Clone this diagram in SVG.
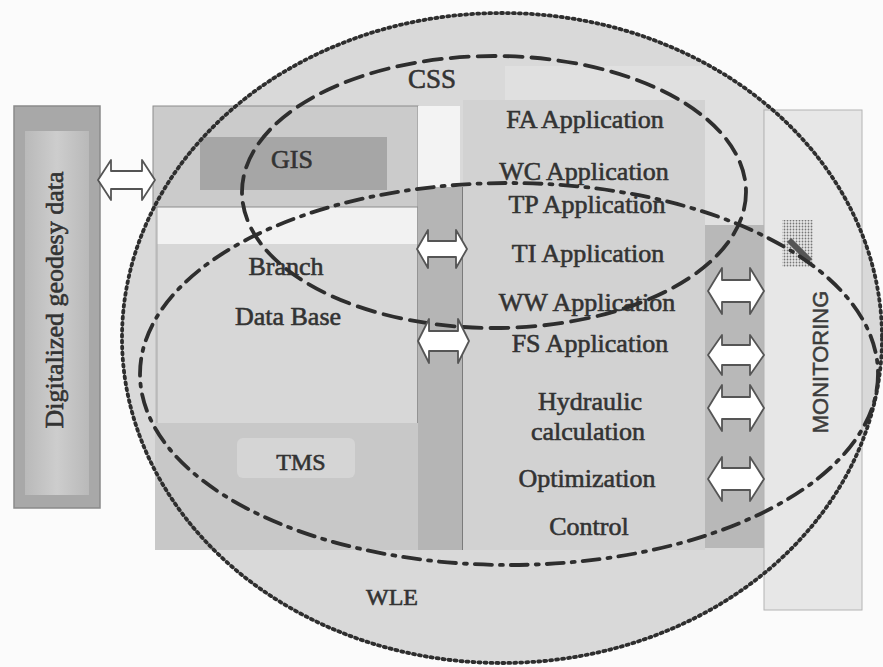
<svg xmlns="http://www.w3.org/2000/svg" width="883" height="667" viewBox="0 0 883 667">
  <style>
    .lbl { font-family: "Liberation Serif", "Times New Roman", serif; font-size: 26px; fill: #333; stroke: #333; stroke-width: 0.6; text-anchor: middle; }
    .sans { font-family: "Liberation Sans", Arial, sans-serif; font-size: 22px; fill: #3c3c3c; stroke: #3c3c3c; stroke-width: 0.5; text-anchor: middle; }
    .dbl { fill: #ffffff; stroke: #555; stroke-width: 1.8; stroke-linejoin: round; }
    .bound { fill: none; stroke: #2e2e2e; stroke-width: 3.8; stroke-linecap: round; }
  </style>
  <defs>
    <pattern id="stipple" width="3" height="3" patternUnits="userSpaceOnUse">
      <circle cx="1.5" cy="1.5" r="0.9" fill="#777"/>
    </pattern>
    <linearGradient id="sideShade" x1="0" y1="0" x2="1" y2="0">
      <stop offset="0" stop-color="#b9b9b9"/>
      <stop offset="0.5" stop-color="#cdcdcd"/>
      <stop offset="1" stop-color="#b9b9b9"/>
    </linearGradient>
    <clipPath id="wleClip">
      <ellipse cx="502" cy="338" rx="380" ry="325"/>
    </clipPath>
  </defs>

  <rect x="0" y="0" width="883" height="667" fill="#fbfbfb"/>

  <!-- WLE area: interior of the outer boundary -->
  <ellipse id="wle-fill" cx="502" cy="338" rx="380" ry="325" fill="#d9d9d9"/>

  <!-- Digitalized geodesy data -->
  <g id="geodesy">
    <rect x="14" y="106" width="86" height="402" fill="#a8a8a8" stroke="#8a8a8a" stroke-width="1.5"/>
    <rect x="25" y="131" width="64" height="364" fill="url(#sideShade)"/>
    <text class="lbl" x="63" y="300" transform="rotate(-90 63 300)">Digitalized geodesy data</text>
  </g>

  <!-- TMS block with branch data base and GIS -->
  <g id="tms">
    <rect x="155" y="207" width="310" height="343" fill="#c8c8c8"/>
    <rect x="237" y="438" width="118" height="40" rx="6" fill="#d5d5d5"/>
    <text class="lbl" x="301" y="470" style="font-size:24px">TMS</text>
  </g>
  <g id="branch-db">
    <rect x="157" y="207" width="261" height="37" fill="#f2f2f2"/>
    <rect x="157" y="244" width="261" height="179" fill="#d7d7d7"/>
    <line x1="418" y1="207" x2="418" y2="423" stroke="#666" stroke-width="1.2"/>
    <line x1="157" y1="207" x2="157" y2="423" stroke="#aaa" stroke-width="1"/>
    <text class="lbl" x="286" y="275">Branch</text>
    <text class="lbl" x="288" y="325">Data Base</text>
  </g>
  <g id="gis">
    <rect x="153" y="106" width="265" height="101" fill="#cbcbcb" stroke="#8c8c8c" stroke-width="1"/>
    <rect x="200" y="137" width="187" height="53" fill="#a6a6a6"/>
    <text class="lbl" x="292" y="168">GIS</text>
  </g>

  <!-- interface column between branch data and applications -->
  <g id="tms-css-link">
    <rect x="418" y="106" width="42" height="81" fill="#f3f3f3"/>
    <rect x="418" y="187" width="47" height="363" fill="#b5b5b5"/>
    <line x1="463" y1="187" x2="463" y2="550" stroke="#555" stroke-width="1.2"/>
  </g>

  <!-- CSS applications -->
  <g id="css">
    <rect x="505" y="66" width="258" height="160" fill="#e0e0e0" clip-path="url(#wleClip)"/>
    <rect x="463" y="100" width="242" height="450" fill="#d2d2d2"/>
    <rect x="705" y="225" width="60" height="323" fill="#b8b8b8"/>
    <text class="lbl" x="432" y="88" style="font-size:27px">CSS</text>
    <text class="lbl" x="585" y="128">FA Application</text>
    <text class="lbl" x="584" y="180">WC Application</text>
    <text class="lbl" x="587" y="213">TP Application</text>
    <text class="lbl" x="588" y="262">TI Application</text>
    <text class="lbl" x="587" y="311">WW Application</text>
    <text class="lbl" x="590" y="352">FS Application</text>
    <text class="lbl" x="590" y="410">Hydraulic</text>
    <text class="lbl" x="588" y="440">calculation</text>
    <text class="lbl" x="587" y="487">Optimization</text>
    <text class="lbl" x="589" y="535">Control</text>
  </g>

  <!-- Monitoring -->
  <g id="monitoring">
    <rect x="764" y="110" width="98" height="500" fill="#e7e7e7" stroke="#b4b4b4" stroke-width="1"/>
    <rect x="782" y="220" width="31" height="47" fill="url(#stipple)"/>
    <line x1="789" y1="240" x2="810" y2="261" stroke="#555" stroke-width="6"/>
    <text class="sans" x="828" y="362" transform="rotate(-90 828 362)">MONITORING</text>
  </g>

  <!-- boundaries of WLE, CSS and the monitored zone -->
  <g id="boundaries">
    <ellipse class="bound" cx="502" cy="338" rx="380" ry="325" stroke-dasharray="2 4" stroke-width="4"/>
    <ellipse class="bound" cx="494" cy="192" rx="252" ry="136" stroke-dasharray="18 9"/>
    <ellipse class="bound" cx="509" cy="374" rx="369" ry="191" stroke-dasharray="17 8 3 8"/>
    <text class="lbl" x="392" y="605" style="font-size:24px">WLE</text>
  </g>

  <!-- data exchange arrows -->
  <g id="connectors">
    <path class="dbl" d="M98,180 L111,160 L111,171 L142,171 L142,160 L155,180 L142,200 L142,189 L111,189 L111,200 Z"/>
    <path class="dbl" d="M417,249 L428,230 L428,241 L456,241 L456,230 L467,249 L456,268 L456,257 L428,257 L428,268 Z"/>
    <path class="dbl" d="M418,341 L429,319 L429,331 L458,331 L458,319 L469,341 L458,363 L458,351 L429,351 L429,363 Z"/>
    <path class="dbl" d="M708,291 L722,268 L722,280 L750,280 L750,268 L764,291 L750,314 L750,302 L722,302 L722,314 Z"/>
    <path class="dbl" d="M708,355 L722,335 L722,345 L750,345 L750,335 L764,355 L750,375 L750,365 L722,365 L722,375 Z"/>
    <path class="dbl" d="M708,408 L722,385 L722,397 L750,397 L750,385 L764,408 L750,431 L750,419 L722,419 L722,431 Z"/>
    <path class="dbl" d="M708,479 L722,457 L722,468 L750,468 L750,457 L764,479 L750,501 L750,490 L722,490 L722,501 Z"/>
  </g>
</svg>
